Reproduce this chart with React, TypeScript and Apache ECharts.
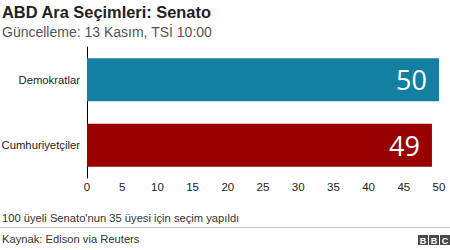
import React, { useEffect, useRef } from "react";
import * as echarts from "echarts";

const categories = ["Demokratlar", "Cumhuriyetçiler"];
const seats = [50, 49];
const barColors = ["#1380A1", "#990000"];
const tickMax = 50;
const tickStep = 5;

const FONT = "'Liberation Sans', Arial, sans-serif";

export default function App() {
  const ref = useRef<HTMLDivElement>(null);
  useEffect(() => {
    if (!ref.current) return;
    const chart = echarts.init(ref.current, null, { renderer: "svg" });
    const bbc = ["B", "B", "C"];
    chart.setOption({
      animation: false,
      backgroundColor: "#ffffff",
      grid: { left: 87, right: 11, top: 47, bottom: 72, containLabel: false, outerBoundsMode: "none" },
      xAxis: {
        type: "value",
        min: 0,
        max: tickMax,
        interval: tickStep,
        axisLine: { show: false },
        axisTick: { show: false },
        splitLine: { show: false },
        axisLabel: { color: "#222", fontSize: 11.5, fontFamily: FONT, margin: 3 },
      },
      yAxis: {
        type: "category",
        data: categories,
        inverse: true,
        axisLine: { show: true, lineStyle: { color: "#000", width: 1 } },
        axisTick: { show: false },
        axisLabel: { color: "#222", fontSize: 11.3, fontFamily: FONT, margin: 7 },
      },
      series: [
        {
          type: "bar",
          barWidth: "66%",
          data: seats.map((v, i) => ({ value: v, itemStyle: { color: barColors[i] } })),
          label: {
            show: true,
            position: "insideRight",
            distance: 12,
            color: "#fff",
            fontSize: 27,
            fontFamily: "'Open Sans', sans-serif",
          },
        },
      ],
      graphic: [
        {
          type: "text",
          left: 2,
          top: 4,
          style: { text: "ABD Ara Seçimleri: Senato", font: `bold 16.4px ${FONT}`, fill: "#222" },
        },
        {
          type: "text",
          left: 2,
          top: 25,
          style: { text: "Güncelleme: 13 Kasım, TSİ 10:00", font: `14px ${FONT}`, fill: "#555" },
        },
        {
          type: "text",
          left: 2,
          top: 212,
          style: { text: "100 üyeli Senato'nun 35 üyesi için seçim yapıldı", font: `11.2px ${FONT}`, fill: "#333" },
        },
        {
          type: "line",
          shape: { x1: 0, y1: 227.5, x2: 450, y2: 227.5 },
          style: { stroke: "#c8c8c8", lineWidth: 1 },
        },
        {
          type: "text",
          left: 2,
          top: 233,
          style: { text: "Kaynak: Edison via Reuters", font: `11.2px ${FONT}`, fill: "#333" },
        },
        ...bbc.flatMap((ch, i) => [
          {
            type: "rect",
            shape: { x: 418 + i * 11, y: 235, width: 10, height: 10 },
            style: { fill: "#4a4a4a" },
          },
          {
            type: "text",
            x: 423 + i * 11,
            y: 240.5,
            style: {
              text: ch,
              font: `bold 9px ${FONT}`,
              fill: "#fff",
              align: "center",
              verticalAlign: "middle",
            },
          },
        ]),
      ],
    });
    return () => chart.dispose();
  }, []);
  return <div ref={ref} style={{ width: 450, height: 250, position: "absolute", left: 0, top: 0 }} />;
}
